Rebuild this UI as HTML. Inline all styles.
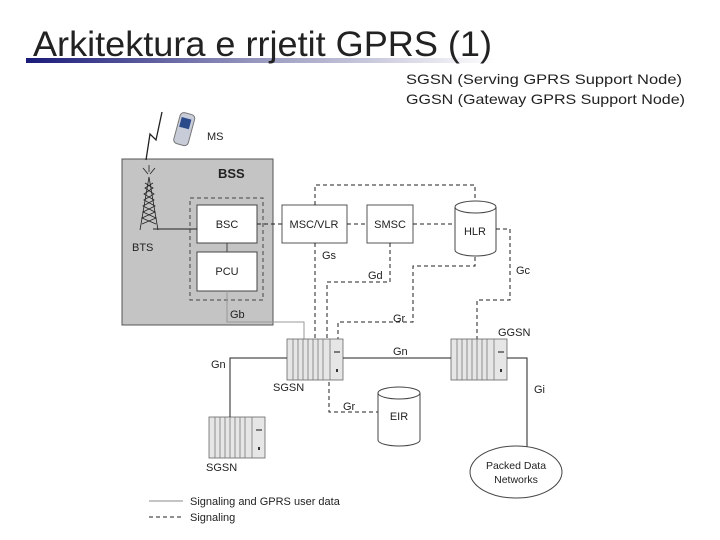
<!DOCTYPE html>
<html><head><meta charset="utf-8"><style>
body{margin:0;background:#fff}
svg{display:block}
text{font-family:"Liberation Sans",sans-serif;fill:#222}
</style></head><body>
<svg width="720" height="540" viewBox="0 0 720 540" xmlns="http://www.w3.org/2000/svg">
<defs>
<linearGradient id="g" x1="0" x2="1"><stop offset="0" stop-color="#1a1a7a"/><stop offset="0.5" stop-color="#9a9ac0"/><stop offset="1" stop-color="#fff"/></linearGradient>
<g id="rack">
<rect x="0" y="0" width="56" height="41" fill="#e6e6e6" stroke="#666" stroke-width="0.8"/>
<g stroke="#777" stroke-width="0.8">
<line x1="6" y1="0" x2="6" y2="41"/><line x1="11" y1="0" x2="11" y2="41"/><line x1="16" y1="0" x2="16" y2="41"/><line x1="21" y1="0" x2="21" y2="41"/><line x1="26" y1="0" x2="26" y2="41"/><line x1="31" y1="0" x2="31" y2="41"/><line x1="36" y1="0" x2="36" y2="41"/><line x1="43" y1="0" x2="43" y2="41"/>
</g>
<line x1="47" y1="13" x2="53" y2="13" stroke="#333" stroke-width="1.2"/>
<rect x="49" y="30" width="2" height="3" fill="#333"/>
</g>
</defs>
<rect x="26" y="58" width="470" height="5" fill="url(#g)"/>
<text x="33" y="56" font-size="35" fill="#111" textLength="459" lengthAdjust="spacingAndGlyphs">Arkitektura e rrjetit GPRS (1)</text>
<text x="406" y="84" font-size="14" textLength="276" lengthAdjust="spacingAndGlyphs">SGSN (Serving GPRS Support Node)</text>
<text x="406" y="104" font-size="14" textLength="279" lengthAdjust="spacingAndGlyphs">GGSN (Gateway GPRS Support Node)</text>

<!-- BSS -->
<rect x="122" y="159" width="151" height="166" fill="#c4c4c4" stroke="#555" stroke-width="1"/>
<text x="218" y="178" font-size="13" font-weight="bold">BSS</text>
<rect x="190" y="198" width="73" height="102" fill="none" stroke="#444" stroke-dasharray="4,3"/>
<rect x="197" y="205" width="60" height="38" fill="#fff" stroke="#444"/>
<text x="227" y="228" font-size="11" text-anchor="middle">BSC</text>
<rect x="197" y="252" width="60" height="39" fill="#fff" stroke="#444"/>
<text x="227" y="275" font-size="11" text-anchor="middle">PCU</text>
<line x1="227" y1="243" x2="227" y2="252" stroke="#444"/>
<!-- tower -->
<g stroke="#222" stroke-width="0.8" fill="none">
<path d="M158 230 L149 177 L140 230"/>
<path d="M142 224 L156 218 L143 212 L155 206 L144 200 L154 194 L145 188 L153 183"/>
<path d="M156 224 L142 218 L155 212 L143 206 L154 200 L144 194 L153 188 L145 183"/>
<path d="M143 168 L148 174 M155 168 L150 174 M149 165 L149 172"/>
<path d="M162 112 L156 140 L150 134 L146 160" stroke-width="1.3"/>
</g>
<line x1="153" y1="229" x2="197" y2="229" stroke="#222"/>
<text x="132" y="251" font-size="11">BTS</text>
<g transform="rotate(15 184 128)"><rect x="177" y="113" width="15" height="32" rx="4" fill="#c8ccd8" stroke="#777"/><rect x="179" y="118" width="10" height="10" fill="#2a4a8a"/></g>
<text x="207" y="140" font-size="11">MS</text>

<!-- core -->
<rect x="282" y="205" width="65" height="38" fill="#fff" stroke="#555"/>
<text x="314" y="228" font-size="11" text-anchor="middle">MSC/VLR</text>
<rect x="367" y="205" width="46" height="38" fill="#fff" stroke="#555"/>
<text x="390" y="228" font-size="11" text-anchor="middle">SMSC</text>
<path d="M455 207 L455 250 A20.5 6 0 0 0 496 250 L496 207" fill="#fff" stroke="#444"/>
<ellipse cx="475.5" cy="207" rx="20.5" ry="6" fill="#fff" stroke="#444"/>
<text x="475" y="235" font-size="11" text-anchor="middle">HLR</text>

<g stroke="#222" fill="none" stroke-dasharray="4,3" stroke-width="1">
<path d="M315 205 L315 185 L475 185 L475 201"/>
<path d="M257 224 L282 224"/>
<path d="M347 224 L367 224"/>
<path d="M413 224 L455 224"/>
<path d="M496 229 L510 229 L510 300 L477 300 L477 339"/>
<path d="M315 243 L315 339"/>
<path d="M390 243 L390 282 L327 282 L327 339"/>
<path d="M475 257 L475 266 L413 266 L413 322 L338 322 L338 339"/>
<path d="M329 382 L329 412 L378 412"/>
</g>
<path d="M227 291 L227 322 L304 322 L304 339" stroke="#999" fill="none"/>
<text x="230" y="318" font-size="11">Gb</text>
<text x="322" y="259" font-size="11">Gs</text>
<text x="368" y="279" font-size="11">Gd</text>
<text x="516" y="274" font-size="11">Gc</text>
<text x="393" y="322" font-size="11">Gr</text>

<use href="#rack" x="287" y="339"/>
<use href="#rack" x="451" y="339"/>
<use href="#rack" x="209" y="417"/>
<g stroke="#222" fill="none">
<path d="M343 358 L451 358"/>
<path d="M287 358 L230 358 L230 417"/>
<path d="M507 358 L527 358 L527 450"/>
</g>
<text x="393" y="355" font-size="11">Gn</text>
<text x="211" y="368" font-size="11">Gn</text>
<text x="498" y="336" font-size="11">GGSN</text>
<text x="273" y="391" font-size="11">SGSN</text>
<text x="206" y="471" font-size="11">SGSN</text>
<text x="343" y="410" font-size="11">Gr</text>
<text x="534" y="393" font-size="11">Gi</text>

<path d="M378 393 L378 440 A21 6 0 0 0 420 440 L420 393" fill="#fff" stroke="#444"/>
<ellipse cx="399" cy="393" rx="21" ry="6" fill="#fff" stroke="#444"/>
<text x="399" y="420" font-size="11" text-anchor="middle">EIR</text>

<ellipse cx="516" cy="472" rx="46" ry="26" fill="#fff" stroke="#444"/>
<text x="516" y="469" font-size="10.5" text-anchor="middle">Packed Data</text>
<text x="516" y="483" font-size="10.5" text-anchor="middle">Networks</text>

<line x1="149" y1="501" x2="183" y2="501" stroke="#888"/>
<text x="190" y="505" font-size="11">Signaling and GPRS user data</text>
<line x1="149" y1="517" x2="183" y2="517" stroke="#222" stroke-dasharray="4,3"/>
<text x="190" y="521" font-size="11">Signaling</text>
</svg>
</body></html>
